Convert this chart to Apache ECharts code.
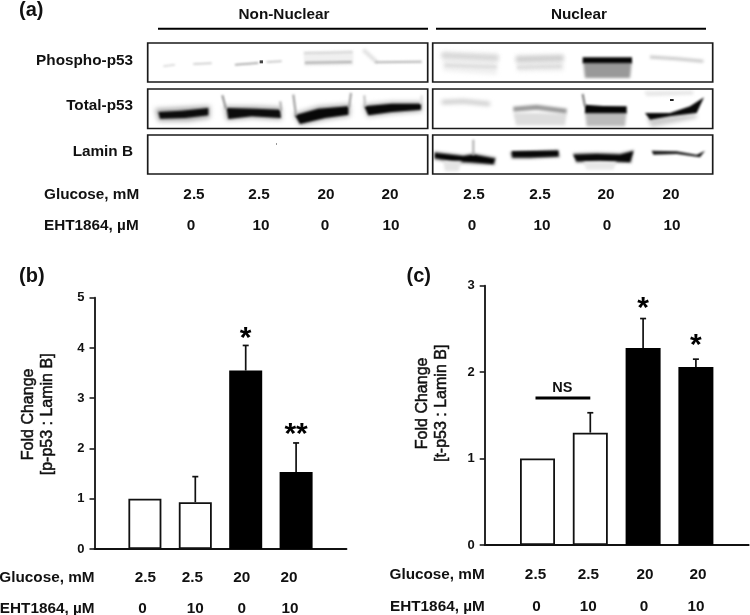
<!DOCTYPE html>
<html><head><meta charset="utf-8">
<style>html,body{margin:0;padding:0;background:#fff}#c{width:750px;height:615px}</style>
<script src="https://cdn.jsdelivr.net/npm/echarts@6/dist/echarts.min.js"></script>
</head><body><div id="c"></div>
<script>
// ---------- data ----------
const glucose = ['2.5','2.5','20','20'];
const eht = ['0','10','0','10'];
const pP53Mean = [1, 0.93, 3.55, 1.53];
const pP53Upper = [null, 1.44, 4.05, 2.11];
const pP53Marks = ['', '', '*', '**'];
const tP53Mean = [1, 1.30, 2.28, 2.06];
const tP53Upper = [null, 1.53, 2.62, 2.15];
const tP53Marks = ['', '', '*', '*'];
const nsLevel = 1.70;
const blotRows = ['Phospho-p53','Total-p53','Lamin B'];
const fractions = ['Non-Nuclear','Nuclear'];

// ---------- layout ----------
const FONT = '"Liberation Sans", Arial, sans-serif';
const INK = '#111';
const TS = 15.3;
const shiftB = {g:[0.5,-3,-4,-7], e:[-2.5,0,-4,-6]};
const shiftC = {g:[-2,-2,2,2], e:[-1,-2,1,0]};
const starLift = {b:[0,0,2,3], c:[0,0,5,8]};

function xData(head, labels, shifts){
  const out = [{value:head, textStyle:{align:'right'}}];
  labels.forEach((l,i)=>{
    const s = shifts[i];
    out.push({value:l, textStyle:{padding: s>=0 ? [0,0,0,2*s] : [0,-2*s,0,0]}});
  });
  out.push('');
  return out;
}
function axisX(idx, head, labels, shifts, margin, offset, showLine){
  return {type:'category', gridIndex:idx, boundaryGap:false, position:'bottom', offset,
    data:xData(head,labels,shifts),
    axisLine:{show:showLine, lineStyle:{color:INK,width:1.8}}, axisTick:{show:false},
    axisLabel:{interval:0, margin, color:INK, fontFamily:FONT, fontWeight:'bold', fontSize:TS, hideOverlap:false},
    splitLine:{show:false}};
}
function axisY(idx, max, name, nameGap, nameShift){
  return {type:'value', gridIndex:idx, min:0, max, interval:1, name, nameLocation:'middle', nameGap,
    nameRotate:90,
    nameTextStyle:{fontFamily:FONT, fontSize:16, color:INK, lineHeight:19, padding:[0,0,0,nameShift],
      textBorderColor:INK, textBorderWidth:0.5},
    axisLine:{show:true, lineStyle:{color:INK,width:1.8}},
    axisTick:{show:true, length:5, lineStyle:{color:INK,width:1.5}},
    axisLabel:{margin:10, color:INK, fontFamily:FONT, fontWeight:'bold', fontSize:13},
    splitLine:{show:false}};
}
function barSeries(idx, means, width){
  return {type:'bar', xAxisIndex:2*idx, yAxisIndex:idx, barWidth:width, animation:false, silent:true,
    data:means.map((v,i)=>({value:[i+1,v], itemStyle:
      i<2 ? {color:'#fff',borderColor:INK,borderWidth:1.8} : {color:'#000',borderColor:'#000',borderWidth:1.8}}))};
}
function errSeries(idx, upper, marks, lift){
  return {type:'custom', xAxisIndex:2*idx, yAxisIndex:idx, animation:false, silent:true, z:5,
    clip:false,
    data:upper.map((u,i)=>[i+1, u, i]),
    encode:{x:0,y:1},
    renderItem(params, api){
      const i = api.value(2), u = upper[i];
      const means = idx===0 ? pP53Mean : tP53Mean;
      const children = [];
      if (u!=null){
        const top = api.coord([i+1,u]), base = api.coord([i+1,means[i]]);
        children.push({type:'line', shape:{x1:top[0],y1:top[1],x2:base[0],y2:base[1]}, style:{stroke:INK,lineWidth:1.7}});
        children.push({type:'line', shape:{x1:top[0]-3,y1:top[1],x2:top[0]+3,y2:top[1]}, style:{stroke:INK,lineWidth:1.7}});
        if (marks[i]) children.push({type:'text', x:top[0], y:top[1]-5-lift[i],
          style:{text:marks[i], font:'bold 30px '+FONT, fill:'#000', align:'center', verticalAlign:'middle'}});
      }
      return {type:'group', children};
    }};
}
function nsSeries(idx){
  return {type:'custom', xAxisIndex:2*idx, yAxisIndex:idx, animation:false, silent:true, z:5, clip:false,
    data:[[1,nsLevel]], encode:{x:0,y:1},
    renderItem(params, api){
      const a = api.coord([1,nsLevel]), b = api.coord([2,nsLevel]);
      return {type:'group', children:[
        {type:'line', shape:{x1:a[0]-2,y1:a[1],x2:b[0],y2:b[1]}, style:{stroke:'#000',lineWidth:3}},
        {type:'text', x:(a[0]+b[0])/2-1.5, y:a[1]-10, style:{text:'NS', font:'bold 14.5px '+FONT, fill:INK, align:'center', verticalAlign:'middle'}}
      ]};
    }};
}

// ---------- blot panel (a): the scanned film, painted softly; coordinates in crop units (3 per px) ----------
const L=[145,38], R=[430,38];
const grad=(a,b,y1,y2)=>({a,b,y1,y2});
const blotShapes = [
 // origin, kind, points, colour, blur px, line width
 // non-nuclear phospho
 [L,'l',[[55,85],[90,80]],'#d4d4d4',.8,1.5],[L,'l',[[145,78],[200,76]],'#c4c4c4',.8,1.5],[L,'l',[[270,80],[340,75]],'#999',.8,1.5],[L,'l',[[365,72],[410,70]],'#bbb',.8,1.5],
 [L,'p',[[344,67],[354,67],[354,76],[344,76]],'#444',.7],
 [L,'p',[[475,40],[625,37],[625,82],[478,85]],'#f0f0f0',1.2],
 [L,'l',[[478,46],[622,43]],'#d0d0d0',.9,1.5],[L,'l',[[480,74],[620,72]],'#aaa',1,2],
 [L,'l',[[655,35],[695,72]],'#e2e2e2',1.5,4],[L,'l',[[690,73],[830,71]],'#b4b4b4',1,2],
 // non-nuclear total
 [L,'p',[[30,212],[195,203],[195,240],[130,250],[40,250]],'#aaa',2.5],
 [L,'p',[[40,222],[110,218],[190,210],[190,232],[120,240],[45,242]],'#0c0c0c',1.2],
 [L,'p',[[238,205],[330,205],[408,208],[410,245],[320,240],[245,247]],'#aaa',2.5],
 [L,'p',[[245,210],[330,212],[405,215],[408,240],[320,235],[250,243]],'#0c0c0c',1.2],
 [L,'p',[[445,228],[520,205],[615,198],[615,235],[540,245],[465,262]],'#aaa',2.5],
 [L,'p',[[450,232],[520,212],[610,205],[610,230],[540,240],[465,258]],'#080808',1.2],
 [L,'p',[[655,200],[740,192],[830,192],[830,220],[740,227],[668,236]],'#aaa',2.5],
 [L,'p',[[658,205],[740,197],[828,197],[828,215],[740,222],[670,232]],'#080808',1.2],
 [L,'l',[[232,172],[243,212]],'#888',1.2,2],[L,'l',[[406,190],[408,218]],'#aaa',1.2,2],[L,'l',[[445,170],[453,232]],'#999',1.2,2],[L,'l',[[618,165],[612,208]],'#999',1.2,2],[L,'l',[[658,172],[660,205]],'#bbb',1.2,2],[L,'l',[[830,172],[828,198]],'#ddd',1.2,2],
 [L,'p',[[393,316],[396,316],[396,320],[393,320]],'#777',.3],
 // nuclear phospho
 [R,'p',[[35,40],[205,45],[200,110],[40,98]],'#efefef',2],
 [R,'l',[[35,52],[205,60]],'#cfcfcf',2,4],[R,'l',[[45,82],[200,87]],'#d8d8d8',1.5,2.5],
 [R,'p',[[258,50],[400,48],[400,98],[262,100]],'#ececec',2],
 [R,'l',[[258,64],[400,60]],'#c4c4c4',2,4],[R,'l',[[262,88],[395,85]],'#d8d8d8',1.5,2.5],
 [R,'p',[[460,72],[605,72],[600,120],[465,120]],grad('#999','#f6f6f6',62,78),1.5],
 [R,'p',[[458,58],[606,58],[606,76],[458,76]],'#050505',1.2],
 [R,'l',[[660,57],[740,62],[820,70]],'#c8c8c8',1.5,3],
 // nuclear total
 [R,'l',[[35,193],[100,190],[180,198]],'#c8c8c8',2.2,4],
 [R,'p',[[250,225],[330,225],[410,228],[405,262],[258,262]],grad('#ddd','#fff',113,126),1.5],
 [R,'l',[[250,214],[320,208],[410,220]],'#999',1.8,5],
 [R,'p',[[465,222],[590,222],[585,265],[470,265]],grad('#bbb','#f8f8f8',112,127),1.5],
 [R,'p',[[465,200],[520,204],[590,205],[590,226],[465,226]],'#050505',1.2],
 [R,'l',[[458,168],[465,205]],'#777',1.2,2],
 [R,'p',[[650,240],[800,228],[800,240],[665,268]],'#ccc',2],
 [R,'p',[[645,225],[720,225],[780,205],[822,178],[800,225],[720,235],[660,245]],'#080808',1.2],
 [R,'p',[[720,183],[731,183],[731,189],[720,189]],'#222',.3],
 [R,'p',[[642,160],[790,158],[790,170],[650,175]],'#e8e8e8',1.5],
 // nuclear lamin
 [R,'p',[[12,340],[100,350],[130,345],[198,358],[195,382],[120,378],[70,375],[12,365]],'#999',1.5],
 [R,'p',[[15,345],[100,355],[130,350],[195,362],[190,378],[120,372],[70,370],[15,360]],'#050505',1.2],
 [R,'l',[[130,305],[130,352]],'#aaa',1.2,2],
 [R,'p',[[40,370],[95,370],[85,400],[45,400]],'#e4e4e4',1.5],
 [R,'p',[[240,342],[385,335],[390,358],[300,362],[245,362]],'#888',1.5],
 [R,'p',[[245,340],[385,338],[385,355],[300,358],[248,358]],'#080808',1],
 [R,'p',[[428,345],[500,343],[570,345],[612,335],[604,376],[510,372],[438,375]],'#999',1.5],
 [R,'p',[[430,350],[500,348],[570,350],[610,340],[600,372],[510,368],[440,370]],'#080808',1.2],
 [R,'p',[[460,372],[560,372],[550,395],[470,395]],'#e8e8e8',1.5],
 [R,'p',[[665,338],[740,340],[800,350],[825,338],[810,358],[740,348],[670,350]],'#1a1a1a',.9],
];
// paint film into an offscreen canvas and hand it to ECharts as an image
const film = document.createElement('canvas'); film.width=750; film.height=180;
const ctx = film.getContext('2d');
ctx.fillStyle='#fff'; ctx.fillRect(0,0,750,180);
blotShapes.forEach(([o,k,pts,col,blur,w])=>{
  ctx.filter = 'blur('+blur+'px)';
  let paint = col;
  if (typeof col !== 'string'){
    paint = ctx.createLinearGradient(0,o[1]+col.y1,0,o[1]+col.y2);
    paint.addColorStop(0,col.a); paint.addColorStop(1,col.b);
  }
  ctx.beginPath();
  pts.forEach((p,i)=>{ const x=o[0]+p[0]/3, y=o[1]+p[1]/3; i?ctx.lineTo(x,y):ctx.moveTo(x,y); });
  if (k==='p'){ ctx.closePath(); ctx.fillStyle=paint; ctx.fill(); }
  else { ctx.strokeStyle=paint; ctx.lineWidth=w; ctx.stroke(); }
});
ctx.filter='none';
const graphics = [{type:'image',silent:true,z:-1,style:{image:film,x:0,y:0,width:750,height:180}}];
// frames
const frameX=[[147.7,427.7],[432.7,712.7]], frameY=[[43,82],[89,128.5],[135,174]];
frameX.forEach(fx=>frameY.forEach(fy=>graphics.push({type:'rect',silent:true,
  shape:{x:fx[0],y:fy[0],width:fx[1]-fx[0],height:fy[1]-fy[0]},
  style:{fill:null,stroke:'#1a1a1a',lineWidth:1.7}})));
// fraction rules
[[158,428],[436,706]].forEach(r=>graphics.push({type:'line',silent:true,shape:{x1:r[0],y1:28.7,x2:r[1],y2:28.7},style:{stroke:'#000',lineWidth:2}}));

function txt(text,x,y,align,size,rot){
  graphics.push({type:'text',silent:true,x,y,rotation:rot||0,
    style:{text,font:'bold '+(size||TS)+'px '+FONT,fill:INK,align:align||'center',verticalAlign:'middle'}});
}
txt('(a)',19,10,'left',20); txt('(b)',19,276,'left',20); txt('(c)',406.5,276.5,'left',20);
txt(fractions[0],284,15); txt(fractions[1],579,15);
const rowY=[60.5,106,152]; blotRows.forEach((r,i)=>txt(r,133,rowY[i],'right'));
txt('Glucose, mM',44,195,'left'); txt('EHT1864, µM',44,226,'left');
const gx=[194,259,326,390,474,540,606,671], ex=[191,261,325,391,472,542,607,672];
gx.forEach((x,i)=>txt(glucose[i%4],x,195)); ex.forEach((x,i)=>txt(eht[i%4],x,226));

const chart = echarts.init(document.getElementById('c'),null,{renderer:'canvas'});
chart.setOption({
  animation:false, backgroundColor:'#fff',
  grid:[{left:94.5,top:297.7,width:252,height:251.3,outerBoundsMode:'none'},
        {left:484.7,top:285.7,width:264,height:259.3,outerBoundsMode:'none'}],
  xAxis:[axisX(0,'Glucose, mM',glucose,shiftB.g,21,0,true),
         axisX(0,'EHT1864, µM',eht,shiftB.e,21,31,false),
         axisX(1,'Glucose, mM',glucose,shiftC.g,22,0,true),
         axisX(1,'EHT1864, µM',eht,shiftC.e,22,32,false)],
  yAxis:[axisY(0,5,'Fold Change\n[p-p53 : Lamin B]',37,18),
         axisY(1,3,'Fold Change\n[t-p53 : Lamin B]',34,24)],
  series:[barSeries(0,pP53Mean,33), errSeries(0,pP53Upper,pP53Marks,starLift.b),
          barSeries(1,tP53Mean,35), errSeries(1,tP53Upper,tP53Marks,starLift.c),
          nsSeries(1)],
  graphic:{elements:graphics}
});
</script></body></html>
